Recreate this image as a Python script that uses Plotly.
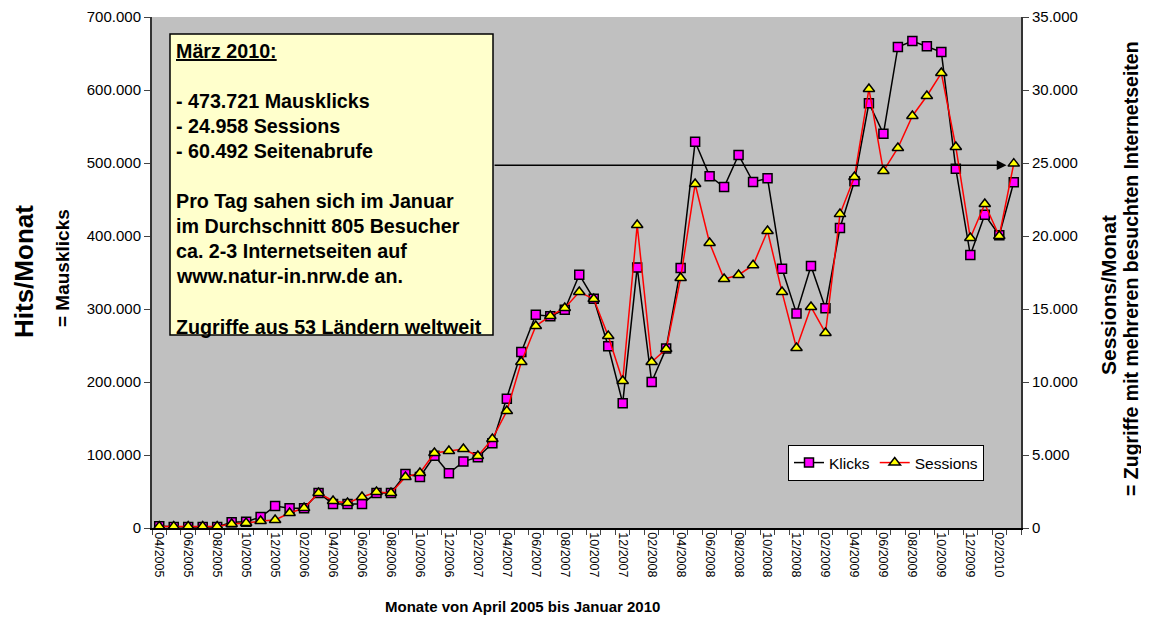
import plotly.graph_objects as go

# ---------------- data ----------------
months = []
for y in range(2005, 2011):
    for m in range(1, 13):
        if (y == 2005 and m < 4) or (y == 2010 and m > 3):
            continue
        months.append(f"{m:02d}/{y}")

klicks = [2500, 1500, 1500, 1500, 1500, 8000, 8500, 15000, 30000, 27000,
          27000, 48000, 33000, 33000, 33000, 48000, 48000, 74000, 70000, 99000,
          75000, 91000, 97000, 116000, 177000, 241000, 292000, 290000, 299000, 347000,
          314000, 249000, 171000, 357000, 200000, 246000, 356000, 529000, 482000, 467000,
          511000, 474000, 479000, 355000, 294000, 359000, 301000, 411000, 475000, 582000,
          540000, 659000, 667000, 660000, 652000, 492000, 374000, 429000, 401000, 473721]

sessions = [100, 100, 100, 100, 100, 270, 340, 480, 550, 1030,
            1370, 2400, 1850, 1710, 2120, 2470, 2400, 3490, 3770, 5140,
            5270, 5410, 4930, 6100, 8010, 11370, 13840, 14520, 15070, 16160,
            15690, 13150, 10070, 20750, 11370, 12260, 17120, 23560, 19520, 17050,
            17330, 18000, 20340, 16160, 12330, 15140, 13360, 21500, 24040, 30070,
            24450, 26030, 28220, 29590, 31160, 26100, 19860, 22190, 20000, 24958]

tick_text = [m if i % 2 == 0 else "" for i, m in enumerate(months)]

info_lines = [
    "<u>März 2010:</u>",
    "",
    "- 473.721 Mausklicks",
    "- 24.958 Sessions",
    "- 60.492 Seitenabrufe",
    "",
    "Pro Tag sahen sich im Januar",
    "im Durchschnitt 805 Besucher",
    "ca. 2-3 Internetseiten auf",
    "www.natur-in.nrw.de an.",
    "",
    "Zugriffe aus 53 Ländern weltweit",
]

FONT = "Liberation Sans, Arial, sans-serif"

# page geometry (browser body has an 8px margin)
OFF = 8
PW, PH = 1149, 619
W, H = PW - OFF, PH - OFF
L, R, T, B = 152, 1021, 17, 528   # plot area in page pixels
def px(x):
    return (x - L) / (R - L)
def py(y):
    return (B - y) / (B - T)

fig = go.Figure()
fig.add_trace(go.Scatter(
    x=months, y=klicks, name="Klicks", mode="lines+markers",
    line=dict(color="black", width=1.5),
    marker=dict(symbol="square", size=9, color="#FF00FF",
                line=dict(color="black", width=1.5)),
    yaxis="y"))
fig.add_trace(go.Scatter(
    x=months, y=sessions, name="Sessions", mode="lines+markers",
    line=dict(color="#FF0000", width=1.5),
    marker=dict(symbol="triangle-up", size=10, color="#FFFF00",
                line=dict(color="black", width=1.5)),
    yaxis="y2"))

fig.update_layout(
    width=W, height=H,
    margin=dict(l=L - OFF, r=PW - R, t=T - OFF, b=PH - B, autoexpand=False),
    paper_bgcolor="white", plot_bgcolor="#C0C0C0",
    separators=",.",
    font=dict(family=FONT, color="black", size=15),
    showlegend=True,
    legend=dict(orientation="h", x=px(788), y=py(445), xanchor="left", yanchor="top",
                bgcolor="white", bordercolor="black", borderwidth=1,
                font=dict(size=15.5, family=FONT), itemwidth=30),
    xaxis=dict(type="category", categoryorder="array", categoryarray=months,
               tickmode="array", tickvals=months, ticktext=tick_text,
               tickangle=90, tickfont=dict(size=12.5), ticks="outside", ticklen=5,
               tickson="boundaries", showline=True, linecolor="black", linewidth=1.5,
               showgrid=False, range=[-0.5, len(months) - 0.5], fixedrange=True),
    yaxis=dict(range=[0, 700000], dtick=100000, tickformat=",d", ticks="outside",
               ticklen=6, showline=True, linecolor="#333", linewidth=2,
               showgrid=False, zeroline=False, tickfont=dict(size=15)),
    yaxis2=dict(range=[0, 35000], dtick=5000, tickformat=",d", ticks="outside",
                ticklen=6, showline=True, linecolor="#333", linewidth=2,
                overlaying="y", side="right", showgrid=False, zeroline=False,
                tickfont=dict(size=15)),
)

# info box
fig.add_shape(type="rect", xref="paper", yref="paper",
              x0=px(170), x1=px(493), y0=py(335), y1=py(34),
              fillcolor="#FFFFCC", line=dict(color="black", width=1.5), layer="above")
for i, s in enumerate(info_lines):
    if not s:
        continue
    fig.add_annotation(xref="paper", yref="paper", x=px(174), y=py(51 + 25.05 * i),
                       xanchor="left", yanchor="middle", align="left", showarrow=False,
                       text=f"<b>{s}</b>",
                       font=dict(size=19.7, family=FONT, color="black"))

# arrow from box to last value
fig.add_annotation(xref="x", yref="y", axref="x", ayref="y",
                   x=58.5, y=497000, ax=23.05, ay=497000,
                   showarrow=True, arrowhead=2, arrowsize=1.3, arrowwidth=1.5,
                   arrowcolor="black", text="")

# axis titles
def title(text, x, y, size, angle=-90):
    fig.add_annotation(xref="paper", yref="paper", x=px(x), y=py(y), textangle=angle,
                       xanchor="center", yanchor="middle", showarrow=False,
                       text=f"<b>{text}</b>", font=dict(size=size, family=FONT))

title("Hits/Monat", 24, 272, 26)
title("= Mausklicks", 62, 268, 19)
title("Sessions/Monat", 1108, 295, 21)
title("= Zugriffe mit mehreren besuchten Internetseiten", 1131, 269, 19.5)
title("Monate von April 2005 bis Januar 2010", 522, 606, 15, angle=0)

fig.write_html("out.html")
